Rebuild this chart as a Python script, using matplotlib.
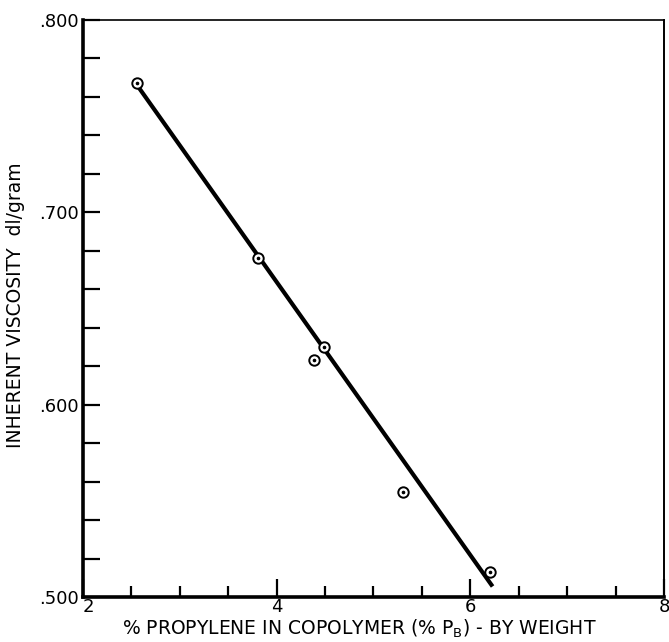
import matplotlib.pyplot as plt
from matplotlib.ticker import MultipleLocator, FixedLocator

plt.rcParams['font.family'] = ['DejaVu Sans']
plt.rcParams['mathtext.default'] = 'regular'

# Messpunkte
propylene = [2.56, 3.81, 4.49, 4.39, 5.30, 6.20]
viscosity = [0.767, 0.676, 0.630, 0.623, 0.5545, 0.513]

# Ausgleichsgerade
fit_x = [2.56, 6.23]
fit_y = [0.766, 0.5055]

x_ticks = [2, 4, 6, 8]
x_labels = ['2', '4', '6', '8']
y_ticks = [0.5, 0.6, 0.7, 0.8]
y_labels = ['.500', '.600', '.700', '.800']

fig = plt.figure(figsize=(6.69, 6.42), dpi=100)
ax = fig.add_axes([0.124, 0.070, 0.8685, 0.899])

ax.plot(fit_x, fit_y, color='black', linewidth=3.0, solid_capstyle='butt', zorder=2)
ax.plot(propylene, viscosity, linestyle='none', marker='o', markersize=7.5,
        markerfacecolor='white', markeredgecolor='black', markeredgewidth=1.4, zorder=3)
ax.plot(propylene, viscosity, linestyle='none', marker='o', markersize=1.6,
        color='black', zorder=4)

ax.set_xlim(2, 8)
ax.set_ylim(0.5, 0.8)

ax.xaxis.set_major_locator(FixedLocator(x_ticks))
ax.set_xticklabels(x_labels)
ax.xaxis.set_minor_locator(MultipleLocator(0.5))
ax.yaxis.set_major_locator(FixedLocator(y_ticks))
ax.set_yticklabels(y_labels)
ax.yaxis.set_minor_locator(MultipleLocator(0.02))

ax.tick_params(axis='both', which='both', direction='in', top=False, right=False,
               width=1.6, labelsize=13)
ax.tick_params(axis='both', which='major', length=13, pad=1)
ax.tick_params(axis='both', which='minor', length=8)
ax.tick_params(axis='y', which='major', length=12, pad=3)
ax.tick_params(axis='y', which='minor', length=12)
ax.get_xticklabels()[0].set_horizontalalignment('left')

ax.spines['left'].set_linewidth(2.6)
ax.spines['bottom'].set_linewidth(2.6)
ax.spines['top'].set_linewidth(1.2)
ax.spines['right'].set_linewidth(1.4)

ax.set_xlabel('% PROPYLENE IN COPOLYMER (% P$_{B}$) - BY WEIGHT', fontsize=13.5,
              labelpad=1, x=0.475)
ax.set_ylabel('INHERENT VISCOSITY  dl/gram', fontsize=13.5, labelpad=10, y=0.505)

fig.savefig('out.png', dpi=100)
